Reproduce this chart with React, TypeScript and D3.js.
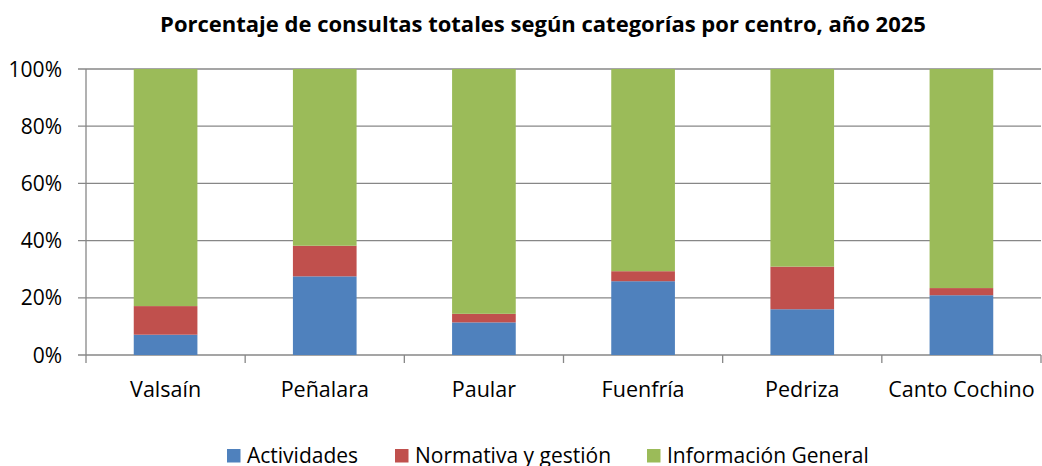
import * as d3 from "d3";
import { useEffect, useRef } from "react";

const centros = ["Valsaín", "Peñalara", "Paular", "Fuenfría", "Pedriza", "Canto Cochino"];
const actividades = [7.1, 27.5, 11.4, 25.8, 16.0, 20.9];
const normativa = [10.0, 10.7, 3.0, 3.5, 14.9, 2.5];
const informacion = [82.9, 61.8, 85.6, 70.7, 69.1, 76.6];
const seriesNames = ["Actividades", "Normativa y gestión", "Información General"];
const colors = ["#4f81bd", "#c0504d", "#9bbb59"];
const yTicks = [0, 20, 40, 60, 80, 100];

const W = 1042;
const H = 466;
const FONT = "'Open Sans', Lato, sans-serif";

function App() {
  const svgRef = useRef<SVGSVGElement>(null);

  useEffect(() => {
    const svg = d3.select(svgRef.current);
    svg.selectAll("*").remove();

    const x = d3.scaleBand().domain(centros).range([86, 1041]).paddingInner(0.6).paddingOuter(0.3);
    const y = d3.scaleLinear().domain([0, 100]).range([355, 69]);

    const rows = centros.map((c, i) => ({
      centro: c,
      Actividades: actividades[i],
      "Normativa y gestión": normativa[i],
      "Información General": informacion[i],
    }));
    const stack = d3.stack<any>().keys(seriesNames)(rows);

    // gridlines
    svg
      .append("g")
      .selectAll("line")
      .data(yTicks)
      .join("line")
      .attr("x1", 78)
      .attr("x2", 1041)
      .attr("y1", (d) => y(d))
      .attr("y2", (d) => y(d))
      .attr("stroke", "#878787")
      .attr("stroke-width", 1.3);

    // y labels
    svg
      .append("g")
      .selectAll("text")
      .data(yTicks)
      .join("text")
      .attr("x", 62)
      .attr("y", (d) => y(d))
      .attr("dy", "0.36em")
      .attr("text-anchor", "end")
      .attr("font-family", FONT)
      .attr("font-size", 21)
      .attr("fill", "#000")
      .text((d) => d + "%");

    // bars
    svg
      .append("g")
      .selectAll("g")
      .data(stack)
      .join("g")
      .attr("fill", (d, i) => colors[i])
      .selectAll("rect")
      .data((d) => d)
      .join("rect")
      .attr("x", (d: any) => x(d.data.centro)!)
      .attr("width", x.bandwidth())
      .attr("y", (d) => y(d[1]))
      .attr("height", (d) => y(d[0]) - y(d[1]));

    // axes lines
    const step = x.step();
    const tickXs = d3.range(centros.length + 1).map((i) => 86 + i * step);
    svg
      .append("line")
      .attr("x1", 86)
      .attr("x2", 86)
      .attr("y1", 69)
      .attr("y2", 355)
      .attr("stroke", "#878787")
      .attr("stroke-width", 1.3);
    svg
      .append("g")
      .selectAll("line")
      .data(tickXs)
      .join("line")
      .attr("x1", (d) => d)
      .attr("x2", (d) => d)
      .attr("y1", 355)
      .attr("y2", 363)
      .attr("stroke", "#878787")
      .attr("stroke-width", 1.3);

    // category labels
    svg
      .append("g")
      .selectAll("text")
      .data(centros)
      .join("text")
      .attr("x", (d) => x(d)! + x.bandwidth() / 2)
      .attr("y", 397)
      .attr("text-anchor", "middle")
      .attr("font-family", FONT)
      .attr("font-size", 21.5)
      .attr("fill", "#000")
      .text((d) => d);

    // title
    svg
      .append("text")
      .attr("x", 543)
      .attr("y", 32)
      .attr("text-anchor", "middle")
      .attr("font-family", FONT)
      .attr("font-weight", "bold")
      .attr("font-size", 22)
      .attr("fill", "#000")
      .text("Porcentaje de consultas totales según categorías por centro, año 2025");

    // legend
    const legendX = [227, 395, 647];
    const lg = svg
      .append("g")
      .selectAll("g")
      .data(seriesNames)
      .join("g")
      .attr("transform", (d, i) => `translate(${legendX[i]},449)`);
    lg.append("rect").attr("width", 13.5).attr("height", 13.5).attr("fill", (d, i) => colors[i]);
    lg.append("text")
      .attr("x", 20)
      .attr("y", 13.5)
      .attr("font-family", FONT)
      .attr("font-size", 21)
      .attr("fill", "#000")
      .text((d) => d);
  }, []);

  return (
    <svg ref={svgRef} width={W} height={H} style={{ position: "absolute", left: 0, top: 0, background: "#fff" }} />
  );
}

export default App;
